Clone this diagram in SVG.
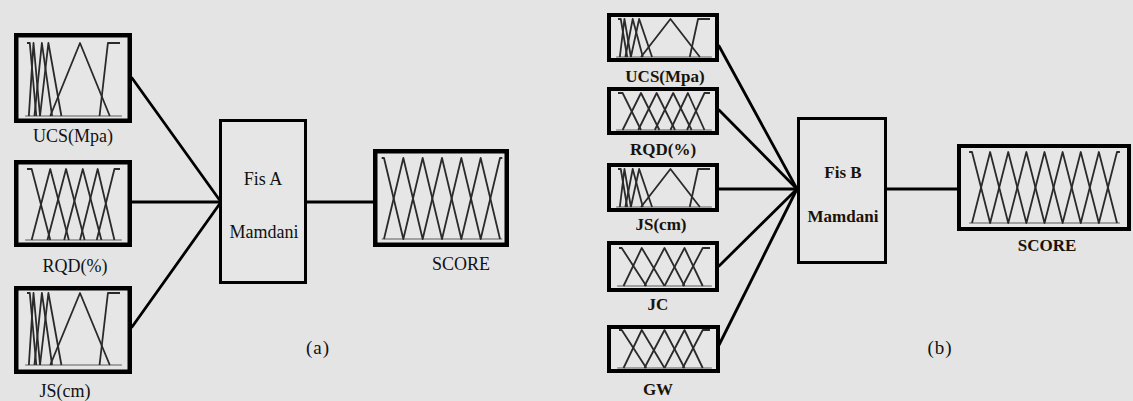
<svg xmlns="http://www.w3.org/2000/svg" xmlns:xlink="http://www.w3.org/1999/xlink" width="1133" height="401" viewBox="0 0 1133 401">
<style>
.bg{fill:#e4e4e4}
.mfbox{fill:#e6e6e6;stroke:#000;stroke-width:4.5}
.mfbox2{fill:#e6e6e6;stroke:#000;stroke-width:4}
.fis{fill:#e6e6e6;stroke:#000;stroke-width:3}
.conn line{stroke:#000;stroke-width:2.8;stroke-linecap:round}
.mf polyline{fill:none;stroke:#2a2a2a;stroke-width:1.8;vector-effect:non-scaling-stroke;stroke-linejoin:round}
.mf line{stroke:#8a8a8a;stroke-width:1.5;vector-effect:non-scaling-stroke}
.lbl{font-family:"Liberation Serif","Times New Roman",serif;font-size:18px;fill:#111;text-anchor:middle}
.lblb{font-family:"Liberation Serif","Times New Roman",serif;font-size:17px;font-weight:bold;fill:#1a1208;text-anchor:middle}
.cap{font-family:"Liberation Serif","Times New Roman",serif;font-size:19px;letter-spacing:1px;fill:#111;text-anchor:middle}
</style>
<defs>
<symbol id="mf-ucs" class="mf" viewBox="0 0 100 100" preserveAspectRatio="none" overflow="visible">
<line x1="-2" y1="100" x2="102" y2="100"/>
<polyline points="0,0 3,0 10,100"/>
<polyline points="2,100 7,0 14,100"/>
<polyline points="8,100 16,0 27,100"/>
<polyline points="14,100 23,0 37,100"/>
<polyline points="25,100 57,0 89,100"/>
<polyline points="78,100 87,0 100,0"/>
</symbol>
<symbol id="mf-rqd" class="mf" viewBox="0 0 100 100" preserveAspectRatio="none" overflow="visible">
<line x1="-2" y1="100" x2="102" y2="100"/>
<polyline points="0,0 5,0 25,100"/>
<polyline points="5,100 25,0 45,100"/>
<polyline points="22,100 42,0 62,100"/>
<polyline points="40,100 60,0 80,100"/>
<polyline points="57,100 76,0 94,100"/>
<polyline points="75,100 94,0 100,0"/>
</symbol>
<symbol id="mf-jc" class="mf" viewBox="0 0 100 100" preserveAspectRatio="none" overflow="visible">
<line x1="-2" y1="100" x2="102" y2="100"/>
<polyline points="0,0 3,0 30,100"/>
<polyline points="5,100 25,0 50,100"/>
<polyline points="28,100 50,0 72,100"/>
<polyline points="50,100 72,0 92,100"/>
<polyline points="70,100 92,0 100,0"/>
</symbol>
<symbol id="mf-score6" class="mf" viewBox="0 0 100 100" preserveAspectRatio="none" overflow="visible">
<line x1="-2" y1="100" x2="102" y2="100"/>
<polyline points="-2,0 0,0 16.67,100 33.33,0 50,100 66.67,0 83.33,100 100,0 102,0"/>
<polyline points="0,100 16.67,0 33.33,100 50,0 66.67,100 83.33,0 100,100"/>
</symbol>
<symbol id="mf-score8" class="mf" viewBox="0 0 100 100" preserveAspectRatio="none" overflow="visible">
<line x1="-2" y1="100" x2="102" y2="100"/>
<polyline points="-2,0 0,0 12.5,100 25,0 37.5,100 50,0 62.5,100 75,0 87.5,100 100,0 102,0"/>
<polyline points="0,100 12.5,0 25,100 37.5,0 50,100 62.5,0 75,100 87.5,0 100,100"/>
</symbol>
</defs>
<rect class="bg" x="0" y="0" width="1133" height="401"/>

<g id="connectors" class="conn">
<line x1="132" y1="78" x2="221" y2="202"/>
<line x1="132" y1="202" x2="221" y2="202"/>
<line x1="132" y1="327" x2="221" y2="202"/>
<line x1="307" y1="202" x2="374" y2="202"/>
<line x1="719" y1="46" x2="797" y2="189"/>
<line x1="719" y1="110" x2="797" y2="189"/>
<line x1="719" y1="189" x2="797" y2="189"/>
<line x1="719" y1="266" x2="797" y2="189"/>
<line x1="719" y1="345" x2="797" y2="189"/>
<line x1="887" y1="189" x2="957" y2="189"/>
</g>

<g id="a-ucs">
<rect class="mfbox" x="16.25" y="35.25" width="113.5" height="85.5"/>
<use xlink:href="#mf-ucs" x="27" y="43" width="93" height="73"/>
<text class="lbl" x="73" y="142">UCS(Mpa)</text>
</g>
<g id="a-rqd">
<rect class="mfbox" x="16.25" y="162.25" width="113.5" height="82.5"/>
<use xlink:href="#mf-rqd" x="27" y="169" width="93" height="71"/>
<text class="lbl" x="75" y="272">RQD(%)</text>
</g>
<g id="a-js">
<rect class="mfbox" x="16.25" y="288.25" width="113.5" height="83.5"/>
<use xlink:href="#mf-ucs" x="27" y="293" width="93" height="72"/>
<text class="lbl" x="65" y="397">JS(cm)</text>
</g>
<g id="a-fis">
<rect class="fis" x="220.5" y="120.5" width="85" height="162"/>
<text class="lbl" x="263" y="185">Fis A</text>
<text class="lbl" x="264" y="238">Mamdani</text>
</g>
<g id="a-score">
<rect class="mfbox" x="375.25" y="151.25" width="131.5" height="93.5"/>
<use xlink:href="#mf-score6" x="384" y="158" width="116" height="81"/>
<text class="lbl" x="461" y="270">SCORE</text>
</g>
<text class="cap" x="318" y="354">(a)</text>

<g id="b-ucs">
<rect class="mfbox2" x="609" y="15" width="108" height="45"/>
<use xlink:href="#mf-ucs" x="618" y="19" width="92" height="38"/>
<text class="lblb" x="665" y="82">UCS(Mpa)</text>
</g>
<g id="b-rqd">
<rect class="mfbox2" x="609" y="89" width="108" height="44"/>
<use xlink:href="#mf-rqd" x="618" y="93" width="92" height="37"/>
<text class="lblb" x="663" y="155">RQD(%)</text>
</g>
<g id="b-js">
<rect class="mfbox2" x="609" y="165" width="108" height="45"/>
<use xlink:href="#mf-ucs" x="618" y="169" width="92" height="38"/>
<text class="lblb" x="661" y="230">JS(cm)</text>
</g>
<g id="b-jc">
<rect class="mfbox2" x="609" y="243" width="108" height="47"/>
<use xlink:href="#mf-jc" x="619" y="248" width="91" height="38"/>
<text class="lblb" x="658" y="310">JC</text>
</g>
<g id="b-gw">
<rect class="mfbox2" x="609" y="327" width="109" height="44"/>
<use xlink:href="#mf-jc" x="619" y="330" width="91" height="38"/>
<text class="lblb" x="658" y="395">GW</text>
</g>
<g id="b-fis">
<rect class="fis" x="798.5" y="118.5" width="87" height="144"/>
<text class="lblb" x="843" y="178">Fis B</text>
<text class="lblb" x="843" y="222">Mamdani</text>
</g>
<g id="b-score">
<rect class="mfbox2" x="959" y="146" width="170" height="83"/>
<use xlink:href="#mf-score8" x="972" y="152" width="145" height="71"/>
<text class="lblb" x="1047" y="251">SCORE</text>
</g>
<text class="cap" x="940" y="354">(b)</text>
</svg>
